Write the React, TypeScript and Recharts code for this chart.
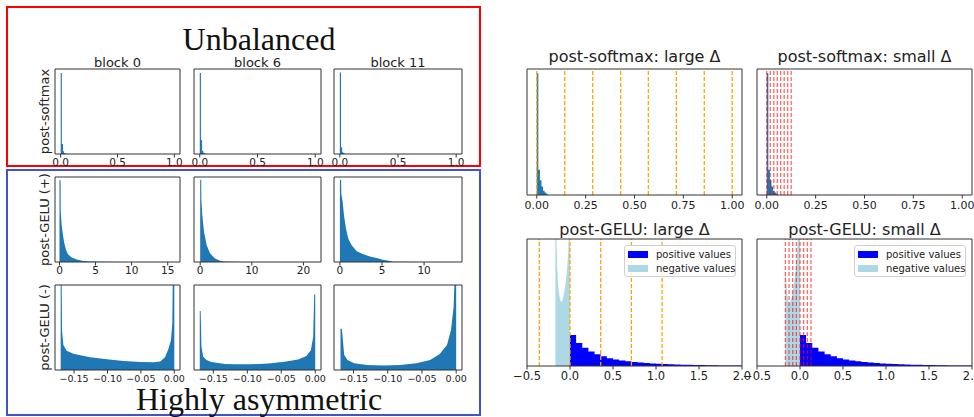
import React from "react";
import { ComposedChart, Area, XAxis, YAxis, ReferenceLine } from "recharts";

// ---------- data ----------
const blockTitles = ["block 0", "block 6", "block 11"];
const rowLabels = ["post-softmax", "post-GELU (+)", "post-GELU (-)"];

// post-softmax (left, 3 blocks) : bin edges + counts
const smEdges = [0, 0.01, 0.02, 0.03, 0.04, 0.05, 0.06];
const smBlock0 = [3.0, 0.37, 0.1, 0.04, 0.02, 0.01];
const smBlock6 = [3.0, 0.52, 0.12, 0.05, 0.02, 0.01];
const smBlock11 = [3.39, 0.28, 0.07, 0.03, 0.01, 0.005];

// post-GELU (+)
const gpX0 = [0, 0.16, 0.17, 0.32, 0.48, 0.64, 0.9, 1.2, 1.7, 2.4, 3.3, 4.2, 5.5, 8, 16];
const gpY0 = [2.18, 2.18, 1.35, 0.95, 0.72, 0.53, 0.33, 0.2, 0.12, 0.07, 0.03, 0.012, 0.005, 0.002, 0.001];
const gpX6 = [0, 0.2, 0.22, 0.41, 0.74, 1.26, 1.9, 2.87, 3.84, 4.5, 8, 23];
const gpY6 = [2.07, 2.07, 1.6, 1.18, 0.76, 0.42, 0.22, 0.09, 0.03, 0.01, 0.003, 0.001];
const gpX11 = [0, 0.15, 0.17, 0.33, 0.49, 0.72, 1.0, 1.4, 2.0, 2.78, 3.57, 4.37, 5.1, 5.95, 6.3, 10, 14];
const gpY11 = [2.64, 2.64, 2.2, 1.94, 1.5, 1.08, 0.75, 0.54, 0.35, 0.25, 0.18, 0.13, 0.07, 0.03, 0.008, 0.003, 0.001];

// post-GELU (-)
const gnX0 = [-0.17, -0.1688, -0.168, -0.166, -0.161, -0.151, -0.126, -0.101, -0.076, -0.051, -0.031, -0.021, -0.014, -0.009, -0.005, -0.003, -0.002, 0];
const gnY0 = [4, 4, 1.41, 0.88, 0.68, 0.57, 0.45, 0.38, 0.32, 0.28, 0.27, 0.3, 0.45, 0.73, 1.06, 1.65, 4, 4];
const gnX6 = [-0.17, -0.1687, -0.1675, -0.165, -0.16, -0.153, -0.133, -0.118, -0.094, -0.069, -0.045, -0.025, -0.013, -0.0065, -0.003, -0.0015, 0];
const gnY6 = [2.5, 2.5, 0.98, 0.56, 0.42, 0.34, 0.25, 0.24, 0.24, 0.28, 0.35, 0.45, 0.59, 0.84, 1.4, 3.2, 3.2];
const gnX11 = [-0.169, -0.167, -0.1636, -0.1587, -0.149, -0.13, -0.106, -0.082, -0.058, -0.038, -0.024, -0.0134, -0.0076, -0.0037, -0.0018, 0];
const gnY11 = [1.21, 1.21, 0.44, 0.29, 0.2, 0.15, 0.13, 0.15, 0.2, 0.29, 0.47, 0.73, 1.17, 1.85, 3, 3];

// right: post-softmax
const smRightEdges = [0, 0.008, 0.016, 0.024, 0.032, 0.04, 0.048, 0.056];
const smRight = [2.9, 0.6, 0.35, 0.2, 0.1, 0.06, 0.03];
const largeSoftmaxLines = [0, 0.143, 0.286, 0.429, 0.571, 0.714, 0.857, 1.0];
const smallSoftmaxLines = [0, 0.018, 0.036, 0.054, 0.071, 0.089, 0.107, 0.125];

// right: post-GELU
const posEdges = [0, 0.071, 0.143, 0.214, 0.286, 0.357, 0.429, 0.5, 0.571, 0.643, 0.714, 0.786, 0.857, 0.929, 1.0,
  1.071, 1.143, 1.214, 1.286, 1.357, 1.429, 1.5, 1.571, 1.643, 1.714, 1.786, 1.857, 1.929, 2.0];
const posValues = [1.22, 0.91, 0.72, 0.57, 0.46, 0.38, 0.31, 0.26, 0.22, 0.19, 0.16, 0.14, 0.12, 0.1, 0.09,
  0.08, 0.07, 0.06, 0.05, 0.045, 0.04, 0.035, 0.03, 0.027, 0.024, 0.02, 0.018, 0.015];
const negX = [-0.17, -0.16, -0.15, -0.14, -0.13, -0.12, -0.11, -0.1, -0.09, -0.08, -0.07, -0.06, -0.05, -0.04, -0.03, -0.02, -0.01, 0];
const negLarge = [7, 5.5, 4.0, 3.3, 2.9, 2.7, 2.55, 2.53, 2.55, 2.7, 2.85, 3.05, 3.3, 3.6, 4.0, 4.5, 5.5, 6];
const negSmall = [3.8, 3.4, 2.9, 2.6, 2.5, 2.5, 2.55, 2.65, 2.8, 3.0, 3.2, 3.5, 3.8, 4.2, 4.7, 5.3, 6, 6];
const largeGeluLines = [-0.357, 0, 0.357, 0.714, 1.071];
const smallGeluLines = [-0.17, -0.1275, -0.085, -0.0425, 0, 0.0425, 0.085, 0.1275];
const legendNames = ["positive values", "negative values"];

// ---------- helpers ----------
const HIST = "#1f77b4";
const SPINE = "#333";
const steps = (edges: number[], vals: number[]) =>
  edges.map((x, i) => ({ x, y: vals[Math.min(i, vals.length - 1)] }));
const pts = (xs: number[], ys: number[]) => xs.map((x, i) => ({ x, y: ys[i] }));
const fmt = (d: number) => (v: number) => (v < 0 ? "\u2212" + Math.abs(v).toFixed(d) : v.toFixed(d));

type Series = { data: { x: number; y: number }[]; color: string; step?: boolean };
type PanelProps = {
  x: number; y: number; w: number; h: number;
  xDomain: [number, number]; xTicks: number[]; tickFmt: (v: number) => string;
  yMax: number; yTicks: number[]; series: Series[];
  vlines?: number[]; vColor?: string; vOpacity?: number;
  fontSize: number; tickGap: number; legend?: boolean;
};

const ML = 20, MR = 16, MT = 2, MB = 24;

function Panel(p: PanelProps) {
  return (
    <div style={{ position: "absolute", left: p.x - ML, top: p.y - MT }}>
      <ComposedChart width={p.w + ML + MR} height={p.h + MT + MB} margin={{ top: MT, right: MR, left: 0, bottom: 0 }}>
        <XAxis xAxisId="b" type="number" dataKey="x" domain={p.xDomain} allowDataOverflow ticks={p.xTicks}
          interval={0} tickFormatter={p.tickFmt} height={MB} tickSize={3.5} tickMargin={p.tickGap}
          stroke={SPINE} tick={{ fill: "#222", fontSize: p.fontSize }} />
        <YAxis yAxisId="l" type="number" domain={[0, p.yMax]} allowDataOverflow ticks={p.yTicks} interval={0}
          width={ML} tick={false} tickSize={3.5} stroke={SPINE} />
        {p.series.map((s, i) => (
          <Area key={i} xAxisId="b" yAxisId="l" data={s.data} dataKey="y" type={s.step ? "stepAfter" : "linear"}
            fill={s.color} fillOpacity={1} stroke="none" isAnimationActive={false} />
        ))}
        {(p.vlines || []).map((v, i) => (
          <ReferenceLine key={i} xAxisId="b" yAxisId="l" x={v} stroke={p.vColor} strokeOpacity={p.vOpacity ?? 1}
            strokeDasharray="4 2" strokeWidth={1.3} />
        ))}
        {/* top and right spines */}
        <ReferenceLine xAxisId="b" yAxisId="l" y={p.yMax} stroke={SPINE} strokeWidth={1} />
        <ReferenceLine xAxisId="b" yAxisId="l" x={p.xDomain[1]} stroke={SPINE} strokeWidth={1} />
      </ComposedChart>
      {p.legend && (
        <div style={{
          position: "absolute", left: ML + p.w - 6 - 112, top: MT + 6, width: 112, height: 32,
          boxSizing: "border-box", border: "1px solid #d0d0d0", borderRadius: 3, background: "rgba(255,255,255,0.8)",
          fontSize: 10, color: "#222", whiteSpace: "nowrap",
        }}>
          {legendNames.map((n, i) => (
            <div key={n} style={{ position: "absolute", left: 3, top: 2 + i * 14, height: 13, width: 106, display: "flex", alignItems: "center" }}>
              <span style={{ width: 20, height: 7, background: i === 0 ? "#0000ff" : "#add8e6", marginRight: 8, flexShrink: 0 }} />
              <span>{n}</span>
            </div>
          ))}
        </div>
      )}
    </div>
  );
}

const cols = [{ x: 55, w: 125 }, { x: 194, w: 127 }, { x: 334, w: 128 }];
const rows = [69, 177, 285];
const RH = 85;

export default function App() {
  const left = { fontSize: 10.5, tickGap: 1 };
  const leftNeg = { fontSize: 9.5, tickGap: 1.5 };
  const smDom: [number, number] = [-0.05, 1.05];
  const gnDom: [number, number] = [-0.1785, 0.0085];
  const gnTicks = [-0.15, -0.1, -0.05, 0];
  return (
    <div style={{ position: "absolute", left: 0, top: 0, width: 974, height: 417, overflow: "hidden", background: "#fff", fontFamily: "DejaVu Sans" }}>
      <svg width={974} height={417} style={{ position: "absolute", left: 0, top: 0 }}>
        <rect x={7} y={7} width={473} height={159} fill="none" stroke="#ff0000" strokeWidth={2} />
        <rect x={7} y={170} width={473} height={245} fill="none" stroke="#4053d3" strokeWidth={2} />
        <text x={259} y={50} textAnchor="middle" fontSize={32} fontFamily="Liberation Serif" fill="#111">Unbalanced</text>
        <text x={259} y={410} textAnchor="middle" fontSize={32} fontFamily="Liberation Serif" fill="#111">Highly asymmetric</text>
        {blockTitles.map((t, i) => (
          <text key={t} x={cols[i].x + cols[i].w / 2} y={66.5} textAnchor="middle" fontSize={13} fill="#222">{t}</text>
        ))}
        {rowLabels.map((t, i) => (
          <text key={t} transform={`translate(48.5, ${rows[i] + RH / 2}) rotate(-90)`} textAnchor="middle" fontSize={13} fill="#222">{t}</text>
        ))}
        <text x={634.5} y={62} textAnchor="middle" fontSize={16} fill="#222">post-softmax: large Δ</text>
        <text x={864.5} y={62} textAnchor="middle" fontSize={16} fill="#222">post-softmax: small Δ</text>
        <text x={634.5} y={234.5} textAnchor="middle" fontSize={16} fill="#222">post-GELU: large Δ</text>
        <text x={864.5} y={234.5} textAnchor="middle" fontSize={16} fill="#222">post-GELU: small Δ</text>
      </svg>

      {/* post-softmax row */}
      <Panel {...left} x={cols[0].x} y={rows[0]} w={cols[0].w} h={RH} xDomain={smDom} xTicks={[0, 0.5, 1]} tickFmt={fmt(1)}
        yMax={3.15} yTicks={[0, 1, 2]} series={[{ data: steps(smEdges, smBlock0), color: HIST, step: true }]} />
      <Panel {...left} x={cols[1].x} y={rows[0]} w={cols[1].w} h={RH} xDomain={smDom} xTicks={[0, 0.5, 1]} tickFmt={fmt(1)}
        yMax={3.15} yTicks={[0, 1, 2]} series={[{ data: steps(smEdges, smBlock6), color: HIST, step: true }]} />
      <Panel {...left} x={cols[2].x} y={rows[0]} w={cols[2].w} h={RH} xDomain={smDom} xTicks={[0, 0.5, 1]} tickFmt={fmt(1)}
        yMax={3.54} yTicks={[0, 1, 2]} series={[{ data: steps(smEdges, smBlock11), color: HIST, step: true }]} />

      {/* post-GELU (+) row */}
      <Panel {...left} x={cols[0].x} y={rows[1]} w={cols[0].w} h={RH} xDomain={[-0.62, 16.7]} xTicks={[0, 5, 10, 15]} tickFmt={fmt(0)}
        yMax={2.27} yTicks={[0, 1, 2]} series={[{ data: pts(gpX0, gpY0), color: HIST }]} />
      <Panel {...left} x={cols[1].x} y={rows[1]} w={cols[1].w} h={RH} xDomain={[-1.2, 23.4]} xTicks={[0, 10, 20]} tickFmt={fmt(0)}
        yMax={2.14} yTicks={[0, 1, 2]} series={[{ data: pts(gpX6, gpY6), color: HIST }]} />
      <Panel {...left} x={cols[2].x} y={rows[1]} w={cols[2].w} h={RH} xDomain={[-0.7, 14.5]} xTicks={[0, 5, 10]} tickFmt={fmt(0)}
        yMax={2.74} yTicks={[0, 1, 2]} series={[{ data: pts(gpX11, gpY11), color: HIST }]} />

      {/* post-GELU (-) row */}
      <Panel {...leftNeg} x={cols[0].x} y={rows[2]} w={cols[0].w} h={RH} xDomain={gnDom} xTicks={gnTicks} tickFmt={fmt(2)}
        yMax={3} yTicks={[0, 1, 2]} series={[{ data: pts(gnX0, gnY0), color: HIST }]} />
      <Panel {...leftNeg} x={cols[1].x} y={rows[2]} w={cols[1].w} h={RH} xDomain={gnDom} xTicks={gnTicks} tickFmt={fmt(2)}
        yMax={3.6} yTicks={[0, 1, 2, 3]} series={[{ data: pts(gnX6, gnY6), color: HIST }]} />
      <Panel {...leftNeg} x={cols[2].x} y={rows[2]} w={cols[2].w} h={RH} xDomain={gnDom} xTicks={gnTicks} tickFmt={fmt(2)}
        yMax={2.49} yTicks={[0, 1, 2]} series={[{ data: pts(gnX11, gnY11), color: HIST }]} />

      {/* right: post-softmax */}
      <Panel fontSize={11} tickGap={2.5} x={527} y={69} w={215} h={126} xDomain={smDom} xTicks={[0, 0.25, 0.5, 0.75, 1]} tickFmt={fmt(2)}
        yMax={3} yTicks={[0, 1, 2]} series={[{ data: steps(smRightEdges, smRight), color: HIST, step: true }]}
        vlines={largeSoftmaxLines} vColor="#ffa500" />
      <Panel fontSize={11} tickGap={2.5} x={757} y={69} w={215} h={126} xDomain={smDom} xTicks={[0, 0.25, 0.5, 0.75, 1]} tickFmt={fmt(2)}
        yMax={3} yTicks={[0, 1, 2]} series={[{ data: steps(smRightEdges, smRight), color: HIST, step: true }]}
        vlines={smallSoftmaxLines} vColor="#ff0000" vOpacity={0.6} />

      {/* right: post-GELU */}
      <Panel fontSize={11.5} tickGap={2.5} x={527} y={239} w={215} h={127} xDomain={[-0.5, 2]} xTicks={[-0.5, 0, 0.5, 1, 1.5, 2]} tickFmt={fmt(1)}
        yMax={5} yTicks={[0, 1, 2, 3, 4]} legend
        series={[{ data: steps(posEdges, posValues), color: "#0000ff", step: true }, { data: pts(negX, negLarge), color: "#add8e6" }]}
        vlines={largeGeluLines} vColor="#ffa500" />
      <Panel fontSize={11.5} tickGap={2.5} x={757} y={239} w={215} h={127} xDomain={[-0.5, 2]} xTicks={[-0.5, 0, 0.5, 1, 1.5, 2]} tickFmt={fmt(1)}
        yMax={5} yTicks={[0, 1, 2, 3, 4]} legend
        series={[{ data: steps(posEdges, posValues), color: "#0000ff", step: true }, { data: pts(negX, negSmall), color: "#add8e6" }]}
        vlines={smallGeluLines} vColor="#ff0000" vOpacity={0.6} />
    </div>
  );
}
